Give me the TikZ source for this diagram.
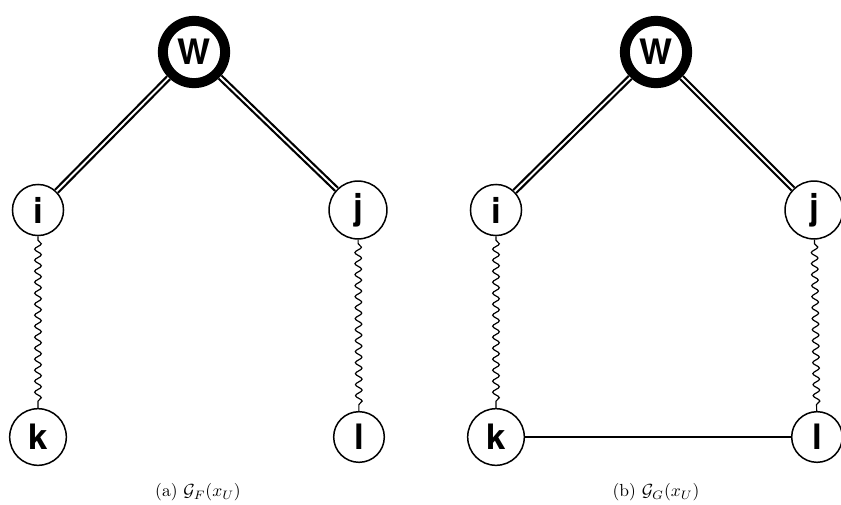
\documentclass[tikz,border=0pt]{standalone}
\usepackage{fontspec}
\setsansfont{TeX Gyre Heros}
\usetikzlibrary{decorations.pathmorphing}
\newcommand{\capscale}[1]{\scalebox{1.75}{#1}}
\tikzset{
  vtx/.style={circle, draw=black, line width=1.5pt, fill=white, inner sep=8.7pt,
    font=\sffamily\bfseries\fontsize{35}{40}\selectfont},
  bigvtx/.style={vtx, line width=10pt, inner sep=7.3pt},
  dbl/.style={draw, double=white, double distance=1.9pt, line width=2.2pt},
  wave/.style={draw, line width=1.2pt, decorate,
    decoration={snake, amplitude=3.3pt, segment length=11pt, pre length=4pt, post length=4pt}},
  plain/.style={draw, line width=1.5pt},
  captext/.style={inner sep=0pt}
}
\begin{document}
\begin{tikzpicture}[x=1pt, y=-1pt]
\useasboundingbox (0,0) rectangle (841,504);
% (a)
\node[bigvtx] (aw) at (194,52) {W};
\node[vtx] (ai) at (38,210) {i};
\node[vtx] (aj) at (358,210) {j};
\node[vtx] (ak) at (38,437) {k};
\node[vtx] (al) at (359,437) {l};
\draw[dbl] (aw) -- (ai);
\draw[dbl] (aw) -- (aj);
\draw[wave] (ai) -- (ak);
\draw[wave] (aj) -- (al);
\node[captext] (capa) at (198,492) {\capscale{(a) $\mathcal{G}_F(x_U)$}};
% (b)
\node[bigvtx] (bw) at (656,52) {W};
\node[vtx] (bi) at (496,210) {i};
\node[vtx] (bj) at (814,210) {j};
\node[vtx] (bk) at (496,437) {k};
\node[vtx] (bl) at (817,437) {l};
\draw[dbl] (bw) -- (bi);
\draw[dbl] (bw) -- (bj);
\draw[wave] (bi) -- (bk);
\draw[wave] (bj) -- (bl);
\draw[plain] (bk) -- (bl);
\node[captext] (capb) at (656,492) {\capscale{(b) $\mathcal{G}_G(x_U)$}};
\end{tikzpicture}
\end{document}
